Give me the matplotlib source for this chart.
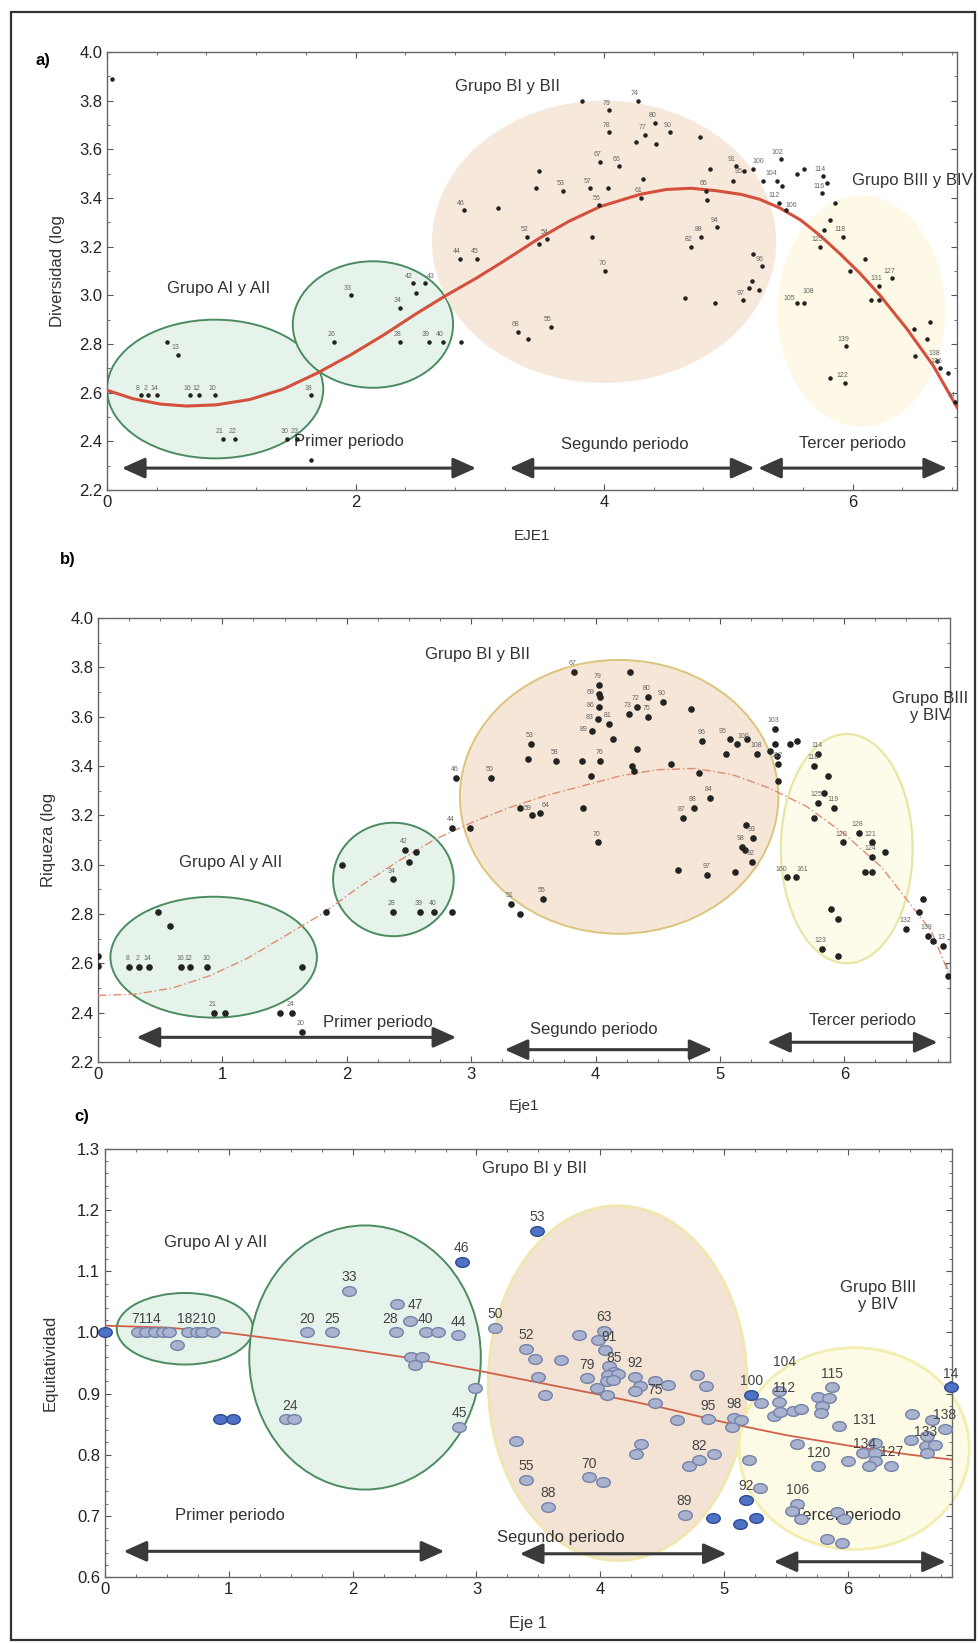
import matplotlib
matplotlib.use("Agg")
import matplotlib.pyplot as plt
import numpy as np
from matplotlib.patches import Ellipse, Rectangle
from matplotlib.path import Path
from matplotlib.ticker import MultipleLocator, FormatStrFormatter

plt.rcParams['font.family'] = ['Liberation Sans', 'DejaVu Sans']

# ---------------- panel a: Diversidad ----------------
a_x = [0.04, 0.27, 0.33, 0.40, 0.67, 0.74, 0.87, 1.64, 0.48, 0.57, 0.93, 1.03, 1.45, 1.53, 1.64,
       1.83, 1.96, 2.36, 2.36, 2.46, 2.56, 2.49, 2.59, 2.70, 2.85, 2.87, 3.15, 2.84, 2.98,
       3.82, 4.04, 4.27, 4.04, 4.41, 4.33, 4.26, 4.42, 4.53, 4.77,
       3.97, 4.12, 3.48, 3.45, 3.67, 3.89, 4.03, 3.96, 4.31, 4.30,
       4.85, 4.82, 4.83, 4.91, 4.78, 4.70, 3.38, 3.48, 3.54, 3.90, 4.01, 4.65, 4.89,
       3.57, 3.31, 3.39,
       5.42, 5.06, 5.13, 5.20, 5.04, 5.28, 5.39, 5.43, 5.55, 5.61, 5.41, 5.46,
       5.76, 5.79, 5.75, 5.86, 5.82, 5.77, 5.92, 5.74,
       6.10, 5.98, 6.32, 6.21, 6.15, 6.21, 5.55, 5.61, 5.95, 5.82, 5.94,
       6.62, 6.49, 6.60, 6.50, 6.68, 6.70, 6.77, 6.82,
       5.20, 5.27, 5.19, 5.17, 5.25, 5.12]
a_y = [3.89, 2.59, 2.59, 2.59, 2.59, 2.59, 2.59, 2.59, 2.81, 2.755, 2.41, 2.41, 2.41, 2.41, 2.325,
       2.81, 3.00, 2.95, 2.81, 3.05, 3.05, 3.01, 2.81, 2.81, 2.81, 3.35, 3.36, 3.15, 3.15,
       3.80, 3.76, 3.80, 3.67, 3.71, 3.66, 3.63, 3.62, 3.67, 3.65,
       3.55, 3.53, 3.51, 3.44, 3.43, 3.44, 3.44, 3.37, 3.48, 3.40,
       3.52, 3.43, 3.39, 3.28, 3.24, 3.20, 3.24, 3.21, 3.23, 3.24, 3.10, 2.99, 2.97,
       2.87, 2.85, 2.82,
       3.56, 3.53, 3.51, 3.52, 3.47, 3.47, 3.47, 3.45, 3.50, 3.52, 3.38, 3.35,
       3.49, 3.46, 3.42, 3.38, 3.31, 3.27, 3.24, 3.20,
       3.15, 3.10, 3.07, 3.04, 2.98, 2.98, 2.97, 2.97, 2.79, 2.66, 2.64,
       2.89, 2.86, 2.82, 2.75, 2.73, 2.70, 2.68, 2.56,
       3.17, 3.12, 3.06, 3.03, 3.02, 2.98]
a_lab = ["", "8", "2", "14", "16", "12", "10", "18", "", "13", "21", "22", "30", "23", "",
         "26", "33", "34", "28", "42", "43", "", "39", "40", "", "46", "", "44", "45",
         "", "79", "74", "78", "80", "77", "", "", "90", "",
         "67", "66", "", "", "53", "57", "", "56", "", "61",
         "", "65", "", "94", "88", "82", "52", "", "54", "", "70", "", "",
         "55", "68", "",
         "102", "91", "95", "100", "", "", "104", "", "", "", "112", "106",
         "114", "", "116", "", "", "", "118", "125",
         "", "", "127", "131", "", "", "105", "108", "139", "", "122",
         "", "", "", "", "138", "136", "", "14",
         "", "96", "", "", "", "97"]
a_fit_x = [0, 0.21, 0.43, 0.64, 0.88, 1.15, 1.42, 1.69, 1.96, 2.22, 2.49, 2.73, 2.97, 3.16,
           3.48, 3.72, 3.97, 4.29, 4.50, 4.70, 4.90, 5.10, 5.25, 5.41, 5.58, 5.74, 5.90,
           6.06, 6.22, 6.44, 6.65, 6.84]
a_fit_y = [2.61, 2.575, 2.553, 2.545, 2.55, 2.572, 2.615, 2.68, 2.755, 2.835, 2.925, 3.0,
           3.07, 3.13, 3.235, 3.305, 3.365, 3.415, 3.435, 3.44, 3.43, 3.415, 3.395, 3.36,
           3.31, 3.245, 3.17, 3.09, 3.0, 2.86, 2.71, 2.54]

# ---------------- panel b: Riqueza ----------------
b_x = [0.0, 0.0, 0.25, 0.33, 0.41, 0.67, 0.74, 0.88, 0.48, 0.58, 1.64,
       0.93, 1.02, 1.46, 1.56, 1.64,
       1.83, 1.96, 2.37, 2.47, 2.56, 2.50, 2.37, 2.59, 2.70, 2.85,
       2.85, 2.99, 2.88, 3.16,
       3.83, 4.28, 4.03, 4.03, 4.04, 4.03, 4.42, 4.54, 4.33, 4.27, 4.42, 4.77,
       4.02, 3.97, 4.11, 4.14,
       3.48, 4.86, 3.46, 3.68, 3.89, 4.04, 4.33, 4.61, 4.29, 4.31, 3.96, 4.83,
       3.39, 3.49, 3.55, 3.90, 4.92, 4.79, 4.70, 4.02, 4.66, 4.90, 3.32, 3.39, 3.58,
       5.44, 5.08, 5.14, 5.22, 5.05, 5.30, 5.40, 5.44, 5.46, 5.47, 5.47, 5.56, 5.62,
       5.79, 5.76, 5.87, 5.84, 5.79, 5.92, 5.76,
       6.12, 5.99, 6.22, 6.33, 6.22, 6.17, 6.22, 5.54, 5.61,
       5.89, 5.95, 5.82, 5.95,
       6.63, 6.60, 6.50, 6.67, 6.71, 6.79, 6.83,
       5.21, 5.27, 5.18, 5.20, 5.26, 5.12]
b_y = [2.63, 2.59, 2.585, 2.585, 2.585, 2.585, 2.585, 2.585, 2.81, 2.75, 2.585,
       2.40, 2.40, 2.40, 2.40, 2.32,
       2.81, 3.00, 2.94, 3.06, 3.05, 3.01, 2.81, 2.81, 2.81, 2.81,
       3.15, 3.15, 3.35, 3.35,
       3.78, 3.78, 3.73, 3.69, 3.68, 3.64, 3.68, 3.66, 3.64, 3.61, 3.60, 3.63,
       3.59, 3.54, 3.57, 3.51,
       3.49, 3.50, 3.43, 3.42, 3.42, 3.42, 3.47, 3.41, 3.40, 3.38, 3.36, 3.37,
       3.23, 3.20, 3.21, 3.23, 3.27, 3.23, 3.19, 3.09, 2.98, 2.96, 2.84, 2.80, 2.86,
       3.55, 3.51, 3.49, 3.51, 3.45, 3.45, 3.46, 3.49, 3.44, 3.41, 3.34, 3.49, 3.50,
       3.45, 3.40, 3.36, 3.29, 3.25, 3.23, 3.19,
       3.13, 3.09, 3.09, 3.05, 3.03, 2.97, 2.97, 2.95, 2.95,
       2.82, 2.78, 2.66, 2.63,
       2.86, 2.81, 2.74, 2.71, 2.69, 2.67, 2.55,
       3.16, 3.11, 3.07, 3.06, 3.01, 2.97]
b_lab = ["", "", "8", "2", "14", "16", "12", "10", "", "", "",
         "21", "", "", "24", "20",
         "", "", "34", "42", "", "", "28", "39", "40", "",
         "44", "", "46", "50",
         "67", "", "79", "69", "", "86", "80", "90", "72", "73", "75", "",
         "83", "89", "81", "",
         "53", "96", "", "58", "", "76", "", "", "", "", "", "",
         "", "59", "64", "", "84", "88", "87", "70", "", "97", "51", "", "55",
         "103", "95", "100", "", "", "108", "", "", "", "112", "", "", "",
         "114", "118", "", "", "125", "119", "",
         "128", "120", "121", "", "124", "", "", "160", "161",
         "", "", "123", "",
         "", "", "132", "138", "", "13", "1",
         "", "93", "98", "", "92", ""]
b_fit_x = [0, 0.3, 0.6, 0.9, 1.2, 1.5, 1.8, 2.1, 2.4, 2.7, 3.0, 3.3, 3.6, 3.9, 4.2, 4.5,
           4.8, 5.1, 5.4, 5.7, 6.0, 6.3, 6.5, 6.7, 6.84]
b_fit_y = [2.47, 2.475, 2.50, 2.55, 2.62, 2.71, 2.80, 2.91, 3.01, 3.10, 3.17, 3.23, 3.28,
           3.32, 3.36, 3.385, 3.39, 3.365, 3.31, 3.235, 3.125, 2.99, 2.86, 2.73, 2.56]

# ---------------- panel c: Equitatividad ----------------
c_x = [0.0, 0.27, 0.33, 0.40, 0.47, 0.52, 0.58, 0.67, 0.74, 0.78, 0.87, 0.93, 1.03,
       1.46, 1.53, 1.63, 1.83, 1.97, 2.36, 2.46, 2.35, 2.59, 2.69, 2.85, 2.47, 2.56, 2.50,
       2.88, 2.99, 2.86, 3.15, 3.49,
       3.40, 3.47, 3.50, 3.55, 3.68, 3.83, 4.03, 3.98, 4.04,
       4.07, 4.11, 4.06, 4.14, 4.05, 4.10, 3.89, 3.97, 4.05,
       4.28, 4.32, 4.28, 4.44, 4.55, 4.44, 4.78, 4.85,
       4.62, 4.87, 5.06, 5.08, 5.14, 3.32, 4.33, 4.29,
       3.40, 3.58, 3.91, 4.02, 4.72, 4.80, 4.92, 4.68, 4.91,
       5.13, 5.18, 5.26, 5.29, 5.20, 5.22, 5.30,
       5.44, 5.44, 5.40, 5.45, 5.56, 5.62, 5.59,
       5.87, 5.76, 5.85, 5.79, 5.78, 5.93, 5.76, 6.00,
       6.12, 6.22, 6.22, 6.22, 6.17, 6.35,
       6.52, 6.68, 6.64, 6.51, 6.63, 6.70, 6.64, 6.78, 6.83,
       5.59, 5.55, 5.62, 5.91, 5.97, 5.83, 5.95]
c_y = [1.0, 1.0, 1.0, 1.0, 1.0, 1.0, 0.98, 1.0, 1.0, 1.0, 1.0, 0.858, 0.858,
       0.858, 0.858, 1.0, 1.0, 1.068, 1.047, 1.018, 1.0, 1.0, 1.0, 0.995, 0.96, 0.96, 0.947,
       1.115, 0.909, 0.845, 1.008, 1.166,
       0.973, 0.957, 0.927, 0.898, 0.955, 0.996, 1.003, 0.987, 0.972,
       0.945, 0.935, 0.930, 0.932, 0.920, 0.922, 0.925, 0.909, 0.897,
       0.927, 0.913, 0.904, 0.921, 0.914, 0.884, 0.931, 0.913,
       0.856, 0.858, 0.845, 0.860, 0.856, 0.823, 0.818, 0.801,
       0.759, 0.715, 0.763, 0.755, 0.781, 0.791, 0.801, 0.702, 0.697,
       0.687, 0.726, 0.697, 0.746, 0.791, 0.898, 0.884,
       0.905, 0.886, 0.863, 0.870, 0.871, 0.875, 0.818,
       0.910, 0.894, 0.892, 0.879, 0.869, 0.847, 0.781, 0.790,
       0.802, 0.819, 0.802, 0.790, 0.781, 0.782,
       0.866, 0.856, 0.830, 0.824, 0.814, 0.816, 0.802, 0.842, 0.910,
       0.720, 0.708, 0.695, 0.707, 0.695, 0.662, 0.656]
c_lab = ["", "", "7114", "", "", "", "", "", "18210", "", "", "", "",
         "", "24", "20", "25", "33", "", "47", "28", "40", "", "44", "", "", "",
         "46", "", "45", "50", "53",
         "52", "", "", "", "", "", "63", "", "",
         "91", "85", "", "", "", "", "79", "", "",
         "92", "", "", "", "", "75", "", "",
         "", "95", "", "98", "", "", "", "",
         "55", "88", "70", "", "", "82", "", "89", "",
         "", "92", "", "", "", "100", "",
         "104", "112", "", "", "", "", "",
         "115", "", "", "", "", "", "120", "",
         "", "131", "134", "", "", "127",
         "", "", "", "", "133", "", "", "138", "14",
         "106", "", "", "", "", "", ""]
c_dark = [1, 0, 0, 0, 0, 0, 0, 0, 0, 0, 0, 1, 1,
          0, 0, 0, 0, 0, 0, 0, 0, 0, 0, 0, 0, 0, 0,
          1, 0, 0, 0, 1,
          0, 0, 0, 0, 0, 0, 0, 0, 0,
          0, 0, 0, 0, 0, 0, 0, 0, 0,
          0, 0, 0, 0, 0, 0, 0, 0,
          0, 0, 0, 0, 0, 0, 0, 0,
          0, 0, 0, 0, 0, 0, 0, 0, 1,
          1, 1, 1, 0, 0, 1, 0,
          0, 0, 0, 0, 0, 0, 0,
          0, 0, 0, 0, 0, 0, 0, 0,
          0, 0, 0, 0, 0, 0,
          0, 0, 0, 0, 0, 0, 0, 0, 1,
          0, 0, 0, 0, 0, 0, 0]
c_fit_x = [0, 0.5, 1.0, 1.5, 2.0, 2.5, 3.0, 3.5, 4.0, 4.5, 5.0, 5.5, 6.0, 6.5, 6.84]
c_fit_y = [1.011, 1.008, 0.999, 0.986, 0.972, 0.957, 0.938, 0.918, 0.898, 0.877, 0.853,
           0.832, 0.815, 0.800, 0.792]

# label nudges (points) for crowded labels
a_nudge = {"105": (-5, 2), "108": (3, 7), "104": (-4, 4), "112": (-4, 4), "106": (4, 2),
           "91": (-3, 4), "95": (-4, -1), "100": (4, 4), "42": (-3, 4), "43": (4, 4)}
b_nudge = {"160": (-4, 4), "161": (5, 4), "95": (-5, 4), "100": (4, 4), "69": (-6, 0),
           "86": (-6, 0), "83": (-6, 0), "89": (-6, 0), "59": (-3, 4), "64": (4, 4)}
c_nudge = {"91": (0, 18), "85": (0, 7), "131": (-8, 14), "134": (-8, 4), "104": (4, 18),
           "112": (4, 7), "24": (-3, 7), "47": (4, 9), "28": (-4, 7)}

W, H = 979, 1643
fig = plt.figure(figsize=(W / 100, H / 100), dpi=100)


def box(l, t, r, b):
    return [l / W, 1 - b / H, (r - l) / W, (b - t) / H]


def style_axes(ax, xmax, ylo, yhi, xmaj, ymaj, xmin, ymin):
    ax.set_xlim(0, xmax)
    ax.set_ylim(ylo, yhi)
    ax.xaxis.set_major_locator(MultipleLocator(xmaj))
    ax.yaxis.set_major_locator(MultipleLocator(ymaj))
    ax.xaxis.set_minor_locator(MultipleLocator(xmin))
    ax.yaxis.set_minor_locator(MultipleLocator(ymin))
    ax.tick_params(which='both', direction='in', top=True, right=True, colors='#555',
                   labelcolor='#222', labelsize=12)
    ax.tick_params(which='major', length=4)
    ax.tick_params(which='minor', length=2)
    for s in ax.spines.values():
        s.set_color('#666')
        s.set_linewidth(1.0)


def arrow(ax, x1, x2, y):
    ax.annotate('', xy=(x2, y), xytext=(x1, y),
                arrowprops=dict(arrowstyle='<|-|>,head_length=1.0,head_width=0.45',
                                lw=2.2, color='#3a3a3a', mutation_scale=14,
                                shrinkA=0, shrinkB=0), zorder=6)


def point_labels(ax, xs, ys, labs, nudge, base, size, color):
    for x, y, t in zip(xs, ys, labs):
        if t:
            ax.annotate(t, (x, y), xytext=nudge.get(t, base), textcoords='offset points',
                        fontsize=size, color=color, ha='center', zorder=5)


# ---------- a ----------
ax = fig.add_axes(box(107, 52, 957, 490))
style_axes(ax, 6.84, 2.2, 4.0, 2, 0.2, 0.4, 0.1)
ax.yaxis.set_major_formatter(FormatStrFormatter('%.1f'))
ax.add_patch(Ellipse((0.87, 2.615), 1.74, 0.57, fc='#e6f3ea', ec='#4a8c5f', lw=1.4, zorder=1))
ax.add_patch(Ellipse((2.14, 2.88), 1.29, 0.52, fc='#e6f3ea', ec='#4a8c5f', lw=1.4, zorder=1))
ax.add_patch(Ellipse((4.0, 3.22), 2.77, 1.16, fc='#f7e8dc', ec='none', zorder=1))
ax.add_patch(Ellipse((6.07, 2.935), 1.35, 0.95, fc='#fdf9e6', ec='none', zorder=1))
ax.plot(a_fit_x, a_fit_y, color='#d4503c', lw=2.2, zorder=3, solid_joinstyle='round')
ax.scatter(a_x, a_y, s=5, color='#222', zorder=4)
point_labels(ax, a_x, a_y, a_lab, a_nudge, (-2, 4), 5, '#666')
ax.text(0.9, 3.03, 'Grupo AI y AII', fontsize=12, color='#333', ha='center', va='center')
ax.text(3.22, 3.86, 'Grupo BI y BII', fontsize=12, color='#333', ha='center', va='center')
ax.text(6.48, 3.47, 'Grupo BIII y BIV', fontsize=12, color='#333', ha='center', va='center')
ax.text(1.95, 2.40, 'Primer periodo', fontsize=12, color='#333', ha='center', va='center')
ax.text(4.17, 2.385, 'Segundo periodo', fontsize=12, color='#333', ha='center', va='center')
ax.text(6.0, 2.39, 'Tercer periodo', fontsize=12, color='#333', ha='center', va='center')
arrow(ax, 0.12, 2.97, 2.29)
arrow(ax, 3.24, 5.21, 2.29)
arrow(ax, 5.24, 6.76, 2.29)
ax.set_xlabel('EJE1', fontsize=11, color='#333', labelpad=14)
ax.set_ylabel('Diversidad (log', fontsize=12, color='#333', labelpad=10)
fig.text(43 / W, 1 - 60 / H, 'a)', fontsize=12, fontweight='bold', ha='center', va='center')

# ---------- b ----------
ax = fig.add_axes(box(98, 618, 950, 1062))
style_axes(ax, 6.85, 2.2, 4.0, 1, 0.2, 0.25, 0.1)
ax.yaxis.set_major_formatter(FormatStrFormatter('%.1f'))
ax.add_patch(Ellipse((0.93, 2.625), 1.66, 0.49, fc='#e6f3ea', ec='#4a8c5f', lw=1.4, zorder=1))
ax.add_patch(Ellipse((2.375, 2.94), 0.97, 0.46, fc='#e6f3ea', ec='#4a8c5f', lw=1.4, zorder=1))
ax.add_patch(Ellipse((4.19, 3.275), 2.56, 1.11, fc='#f5e6d8', ec='#dcc47c', lw=1.4, zorder=1))
ax.add_patch(Ellipse((6.02, 3.065), 1.06, 0.93, fc='#fdfbe9', ec='#e8e6a4', lw=1.6, zorder=1))
ax.plot(b_fit_x, b_fit_y, color='#e08c70', lw=1.0, ls=(0, (6, 2, 1, 2)), zorder=3)
ax.scatter(b_x, b_y, s=14, color='#222', zorder=4)
point_labels(ax, b_x, b_y, b_lab, b_nudge, (-1, 5), 5, '#666')
ax.text(1.07, 3.01, 'Grupo AI y AII', fontsize=12, color='#333', ha='center', va='center')
ax.text(3.05, 3.85, 'Grupo BI y BII', fontsize=12, color='#333', ha='center', va='center')
ax.text(6.69, 3.64, 'Grupo BIII\ny BIV', fontsize=12, color='#333', ha='center', va='center')
ax.text(2.25, 2.36, 'Primer periodo', fontsize=12, color='#333', ha='center', va='center')
ax.text(3.99, 2.33, 'Segundo periodo', fontsize=12, color='#333', ha='center', va='center')
ax.text(6.15, 2.37, 'Tercer periodo', fontsize=12, color='#333', ha='center', va='center')
arrow(ax, 0.31, 2.88, 2.30)
arrow(ax, 3.27, 4.94, 2.25)
arrow(ax, 5.38, 6.75, 2.28)
ax.set_xlabel('Eje1', fontsize=11, color='#333', labelpad=12)
ax.set_ylabel('Riqueza (log', fontsize=12, color='#333', labelpad=10)
fig.text(68 / W, 1 - 559 / H, 'b)', fontsize=12, fontweight='bold', ha='center', va='center')

# ---------- c ----------
ax = fig.add_axes(box(105, 1149, 952, 1577))
style_axes(ax, 6.84, 0.6, 1.3, 1, 0.1, 0.25, 0.02)
ax.add_patch(Ellipse((0.645, 1.006), 1.10, 0.117, fc='#e6f3ea', ec='#4a8c5f', lw=1.4, zorder=1))
ax.add_patch(Ellipse((2.10, 0.959), 1.87, 0.432, fc='#e6f3ea', ec='#4a8c5f', lw=1.4, zorder=1))
ax.add_patch(Ellipse((4.14, 0.917), 2.09, 0.58, fc='#f3e3d5', ec='#f0e6b0', lw=2.0, zorder=1))
ax.add_patch(Ellipse((6.05, 0.81), 1.86, 0.33, fc='#fdfbe6', ec='#f2eeb0', lw=2.0, zorder=1,
                     clip_on=False))
ax.plot(c_fit_x, c_fit_y, color='#d0604a', lw=1.3, zorder=3)
circ = Path.unit_circle()
oval = Path(circ.vertices * np.array([1.0, 0.72]), circ.codes)
dark = np.array(c_dark, dtype=bool)
cx = np.array(c_x)
cy = np.array(c_y)
ax.scatter(cx[~dark], cy[~dark], s=95, marker=oval, facecolor='#a9b3cf', edgecolor='#7482a8',
           lw=1.0, zorder=4)
ax.scatter(cx[dark], cy[dark], s=95, marker=oval, facecolor='#4f72c6', edgecolor='#2f4c94',
           lw=1.0, zorder=4, clip_on=False)
point_labels(ax, c_x, c_y, c_lab, c_nudge, (0, 7), 10, '#444')
ax.text(0.89, 1.147, 'Grupo AI y AII', fontsize=12, color='#333', ha='center', va='center')
ax.text(3.47, 1.268, 'Grupo BI y BII', fontsize=12, color='#333', ha='center', va='center')
ax.text(6.24, 1.06, 'Grupo BIII\ny BIV', fontsize=12, color='#333', ha='center', va='center')
ax.text(1.01, 0.70, 'Primer periodo', fontsize=12, color='#333', ha='center', va='center')
ax.text(3.68, 0.665, 'Segundo periodo', fontsize=12, color='#333', ha='center', va='center')
ax.text(6.0, 0.70, 'Tercer periodo', fontsize=12, color='#333', ha='center', va='center')
arrow(ax, 0.15, 2.74, 0.642)
arrow(ax, 3.35, 5.02, 0.638)
arrow(ax, 5.40, 6.79, 0.625)
ax.set_xlabel('Eje 1', fontsize=12, color='#333', labelpad=14)
ax.set_ylabel('Equitatividad', fontsize=12, color='#333', labelpad=14)
fig.text(82 / W, 1 - 1116 / H, 'c)', fontsize=12, fontweight='bold', ha='center', va='center')

# outer frame
fig.add_artist(Rectangle((11 / W, 1 - 1640 / H), (975 - 11) / W, (1640 - 12) / H,
                         transform=fig.transFigure, fill=False, lw=1.6, ec='#333'))

fig.savefig('out.png', dpi=100)
